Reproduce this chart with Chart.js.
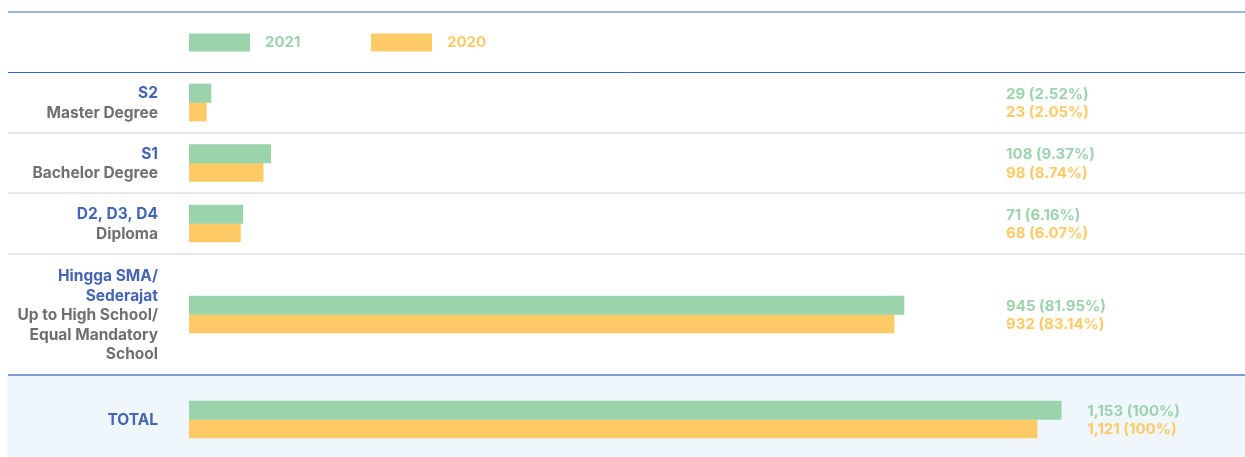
<!DOCTYPE html>
<html>
<head>
<meta charset="utf-8">
<title>Pendidikan Karyawan</title>
<script src="https://cdn.jsdelivr.net/npm/chart.js@4"></script>
<style>
  html, body { margin: 0; padding: 0; background: #ffffff; }
  #chart { display: block; }
</style>
</head>
<body>
<canvas id="chart" width="1245" height="457"></canvas>
<script>
// data
const years = ["2021", "2020"];
const levelCodes = ["S2", "S1", "D2, D3, D4", "Hingga SMA/\nSederajat", "TOTAL"];
const levelNames = ["Master Degree", "Bachelor Degree", "Diploma", "Up to High School/\nEqual Mandatory\nSchool", ""];
const values2021 = [29, 108, 71, 945, 1153];
const values2020 = [23, 98, 68, 932, 1121];
const percent2021 = [2.52, 9.37, 6.16, 81.95, 100];
const percent2020 = [2.05, 8.74, 6.07, 83.14, 100];

// layout
const rowEdges = [72, 133, 193, 254, 375, 464];
const headerTop = 12;
const colors = {
  green: "#9bd3ad",
  orange: "#fdca66",
  blue: "#4465b4",
  gray: "#6f6f71",
  rule: "#dcdcdc",
  lightRule: "#7f9bd0",
  darkRule: "#3d63bf",
  totalBg: "#eff7fd",
};
const FONT = "Inter, 'Open Sans', sans-serif";

const rowCenter = (i) => (rowEdges[i] + rowEdges[i + 1]) / 2;
const fmtValue = (v) => v.toLocaleString("en-US");
const fmtPercent = (p) => (p === 100 ? "100" : p.toFixed(2)) + "%";

function toPoints(values) {
  return values.map((v, i) => ({ x: v, y: rowCenter(i) }));
}

// row backgrounds and rules
const tableGrid = {
  id: "tableGrid",
  beforeDatasetsDraw(chart) {
    const ctx = chart.ctx;
    const w = chart.width;
    const last = levelCodes.length - 1;
    ctx.save();
    ctx.fillStyle = colors.totalBg;
    ctx.fillRect(7, rowEdges[last], w - 7, chart.height - rowEdges[last]);

    const hline = (y, color, width) => {
      ctx.beginPath();
      ctx.strokeStyle = color;
      ctx.lineWidth = width;
      ctx.moveTo(8, y);
      ctx.lineTo(w, y);
      ctx.stroke();
    };
    hline(headerTop, colors.lightRule, 1.5);
    hline(rowEdges[0] + 0.5, colors.darkRule, 1);
    for (let i = 1; i < last; i++) hline(rowEdges[i], colors.rule, 1.5);
    hline(rowEdges[last], colors.lightRule, 2);
    ctx.restore();
  },
};

// legend, row captions and value labels
const tableText = {
  id: "tableText",
  afterDraw(chart) {
    const ctx = chart.ctx;
    const area = chart.chartArea;
    const xScale = chart.scales.x;
    ctx.save();

    // legend
    const legendY = (headerTop + rowEdges[0]) / 2 + 0.5;
    const legendColors = [colors.green, colors.orange];
    ctx.font = "bold 15px " + FONT;
    ctx.textBaseline = "middle";
    ctx.textAlign = "left";
    years.forEach((year, k) => {
      const x = area.left + k * 182;
      ctx.fillStyle = legendColors[k];
      ctx.fillRect(x, legendY - 9, 61, 18);
      ctx.fillText(year, x + 76, legendY);
    });

    // row captions
    const lineH = 19.5;
    const labelRight = area.left - 31;
    ctx.textAlign = "right";
    ctx.font = "bold 15.5px " + FONT;
    levelCodes.forEach((code, i) => {
      const lines = code.split("\n").map((t) => [t, colors.blue]);
      if (levelNames[i]) {
        levelNames[i].split("\n").forEach((t) => lines.push([t, colors.gray]));
      }
      const firstY = rowCenter(i) - ((lines.length - 1) * lineH) / 2 + 1;
      lines.forEach(([text, color], j) => {
        ctx.fillStyle = color;
        ctx.fillText(text, labelRight, firstY + j * lineH);
      });
    });

    // value labels next to each bar pair
    ctx.textAlign = "left";
    ctx.font = "bold 15px " + FONT;
    const column = xScale.getPixelForValue(1080);
    const metas = [chart.getDatasetMeta(0), chart.getDatasetMeta(1)];
    const sets = [
      [values2021, percent2021, colors.green],
      [values2020, percent2020, colors.orange],
    ];
    levelCodes.forEach((_, i) => {
      const barEnd = Math.max(metas[0].data[i].x, metas[1].data[i].x);
      const x = Math.max(column, barEnd + 26);
      sets.forEach(([vals, pcts, color], k) => {
        ctx.fillStyle = color;
        ctx.fillText(fmtValue(vals[i]) + " (" + fmtPercent(pcts[i]) + ")", x, metas[k].data[i].y + 1);
      });
    });
    ctx.restore();
  },
};

new Chart(document.getElementById("chart"), {
  type: "bar",
  data: {
    datasets: [
      { label: years[0], data: toPoints(values2021), backgroundColor: colors.green },
      { label: years[1], data: toPoints(values2020), backgroundColor: colors.orange },
    ],
  },
  options: {
    indexAxis: "y",
    responsive: false,
    animation: false,
    barThickness: 18.5,
    layout: { padding: { left: 189, right: 12, top: 0, bottom: 0 } },
    scales: {
      x: { type: "linear", min: 0, max: 1380, display: false },
      y: { type: "linear", min: 0, max: 457, reverse: true, offset: false, display: false },
    },
    plugins: {
      legend: { display: false },
      tooltip: { enabled: false },
    },
  },
  plugins: [tableGrid, tableText],
});
</script>
</body>
</html>
